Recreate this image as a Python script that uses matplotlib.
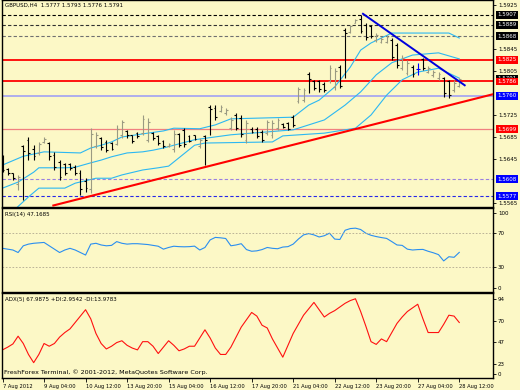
import numpy as np
import matplotlib.pyplot as plt

# GBPUSD H4 bars
opens = [1.5648,1.5626,1.5619,1.5600,1.5668,1.5680,1.5664,1.5655,1.5676,1.5674,
         1.5652,1.5640,1.5635,1.5636,1.5630,1.5620,1.5605,1.5590,1.5668,1.5684,
         1.5676,1.5674,1.5672,1.5688,1.5696,1.5688,1.5692,1.5692,1.5680,1.5692,
         1.5686,1.5678,1.5668,1.5664,1.5690,1.5698,1.5686,1.5688,1.5668,1.5686,
         1.5740,1.5738,1.5732,1.5728,1.5702,1.5725,1.5720,1.5680,1.5700,1.5700,
         1.5694,1.5692,1.5688,1.5702,1.5708,1.5710,1.5722,1.5750,1.5752,1.5800,
         1.5786,1.5786,1.5782,1.5786,1.5775,1.5812,1.5880,1.5876,1.5893,1.5900,
         1.5888,1.5886,1.5862,1.5858,1.5858,1.5862,1.5852,1.5810,1.5802,1.5812,
         1.5808,1.5826,1.5804,1.5797,1.5792,1.5792,1.5786,1.5770,1.5777]
highs = [1.5652,1.5629,1.5620,1.5616,1.5670,1.5685,1.5670,1.5676,1.5685,1.5676,
         1.5658,1.5643,1.5638,1.5638,1.5634,1.5625,1.5610,1.5701,1.5694,1.5685,
         1.5680,1.5676,1.5707,1.5716,1.5698,1.5689,1.5694,1.5725,1.5720,1.5694,
         1.5689,1.5680,1.5674,1.5698,1.5692,1.5701,1.5689,1.5689,1.5683,1.5689,
         1.5743,1.5743,1.5743,1.5738,1.5721,1.5729,1.5725,1.5716,1.5703,1.5703,
         1.5698,1.5716,1.5716,1.5720,1.5710,1.5712,1.5725,1.5776,1.5774,1.5803,
         1.5789,1.5789,1.5785,1.5816,1.5810,1.5816,1.5883,1.5889,1.5900,1.5907,
         1.5892,1.5889,1.5874,1.5867,1.5870,1.5865,1.5856,1.5834,1.5825,1.5816,
         1.5820,1.5829,1.5814,1.5807,1.5803,1.5794,1.5789,1.5789,1.5793]
lows = [1.5621,1.5616,1.5607,1.5589,1.5570,1.5643,1.5643,1.5652,1.5674,1.5643,
        1.5625,1.5607,1.5616,1.5625,1.5616,1.5580,1.5585,1.5583,1.5665,1.5661,
        1.5658,1.5661,1.5670,1.5683,1.5683,1.5674,1.5683,1.5689,1.5676,1.5680,
        1.5670,1.5665,1.5667,1.5658,1.5667,1.5667,1.5676,1.5680,1.5665,1.5634,
        1.5689,1.5716,1.5730,1.5725,1.5698,1.5698,1.5685,1.5674,1.5692,1.5683,
        1.5676,1.5689,1.5683,1.5698,1.5701,1.5698,1.5703,1.5747,1.5749,1.5765,
        1.5770,1.5767,1.5767,1.5783,1.5770,1.5774,1.5792,1.5874,1.5892,1.5874,
        1.5861,1.5865,1.5858,1.5856,1.5856,1.5825,1.5810,1.5807,1.5798,1.5794,
        1.5798,1.5807,1.5801,1.5794,1.5789,1.5758,1.5756,1.5767,1.5776]
closes = [1.5625,1.5619,1.5610,1.5612,1.5660,1.5655,1.5650,1.5672,1.5682,1.5650,
          1.5630,1.5612,1.5620,1.5628,1.5620,1.5590,1.5592,1.5690,1.5688,1.5666,
          1.5662,1.5664,1.5700,1.5712,1.5688,1.5678,1.5686,1.5718,1.5712,1.5684,
          1.5674,1.5668,1.5672,1.5690,1.5670,1.5672,1.5678,1.5682,1.5680,1.5680,
          1.5736,1.5722,1.5740,1.5734,1.5716,1.5702,1.5690,1.5710,1.5694,1.5686,
          1.5680,1.5712,1.5710,1.5716,1.5703,1.5700,1.5706,1.5772,1.5770,1.5790,
          1.5774,1.5772,1.5770,1.5810,1.5805,1.5778,1.5874,1.5886,1.5898,1.5878,
          1.5866,1.5868,1.5870,1.5864,1.5866,1.5830,1.5815,1.5828,1.5820,1.5800,
          1.5808,1.5810,1.5810,1.5803,1.5800,1.5765,1.5762,1.5784,1.5791]

# Bollinger lines, read at a few bars
upper_i = [0, 4, 8, 15, 17, 19, 21, 23, 28, 31, 33, 38, 41, 44, 56, 59, 61, 64, 67, 69, 71, 75, 86, 88]
upper_v = [1.5634, 1.5650, 1.5658, 1.5656, 1.5665, 1.5670, 1.5676, 1.5685, 1.5692, 1.5696, 1.5701, 1.5700,
           1.5707, 1.5718, 1.5721, 1.5743, 1.5752, 1.5776, 1.5812, 1.5843, 1.5856, 1.5874, 1.5874, 1.5865]
mid_i = [0, 3, 6, 7, 12, 14, 17, 19, 21, 24, 27, 29, 31, 37, 44, 56, 62, 66, 69, 72, 75, 79, 84, 88]
mid_v = [1.5592, 1.5603, 1.5621, 1.5629, 1.5629, 1.5630, 1.5638, 1.5643, 1.5649, 1.5656, 1.5658, 1.5661,
         1.5665, 1.5680, 1.5689, 1.5698, 1.5716, 1.5743, 1.5767, 1.5798, 1.5820, 1.5834, 1.5838, 1.5827]
low_i = [2, 5, 7, 12, 14, 18, 21, 23, 27, 30, 32, 37, 39, 52, 54, 62, 68, 71, 74, 77, 80, 84, 88]
low_v = [1.5550, 1.5576, 1.5592, 1.5592, 1.5601, 1.5610, 1.5610, 1.5616, 1.5625, 1.5629, 1.5632, 1.5670,
         1.5674, 1.5676, 1.5687, 1.5692, 1.5701, 1.5725, 1.5761, 1.5789, 1.5803, 1.5810, 1.5792]

rsi = [52, 51, 50, 47, 55, 57, 58, 58.5, 59, 55,
       51, 47, 50, 52, 50, 47, 44, 57, 58, 56,
       55, 55.5, 60, 58, 57, 57.5, 57.5, 57, 56.5, 55.5,
       54.5, 51, 53, 54.5, 54, 53.8, 54, 54.6, 50, 53,
       62, 65, 64.5, 63.7, 55, 56, 57.5, 50.5, 48.5, 49,
       50.5, 53, 52, 51.5, 53.5, 54, 57, 63, 68, 69.5,
       68, 65.5, 67, 70, 63, 62.5, 73.5, 75.5, 76, 74.4,
       70, 67.5, 66, 64.8, 63.8, 60, 56, 55.5, 51, 50,
       50.5, 50.7, 48.5, 46.7, 44.5, 37, 42, 41.3, 47.17]
adx = [38, 41, 44.5, 53, 45, 33, 24, 33, 45, 42,
       45, 52, 57, 61, 68, 75, 82, 72, 56, 45,
       39, 42, 46, 48, 43, 40, 38, 47, 47, 42,
       34, 41, 48, 43, 37, 39, 42, 42, 51, 60,
       51, 40, 33, 33, 41, 52, 63, 71, 79, 75,
       65, 62, 50, 40, 30, 43, 56, 66, 76, 83,
       90, 82, 74, 78, 81, 85, 89, 92, 94, 80,
       64, 47, 44, 50, 47, 57, 67, 74, 80, 84,
       88, 72, 57, 57, 57, 66, 76, 75, 68]

# horizontal levels: price, color, dashed
levels = [(1.5907, "#000000", True), (1.5889, "#303030", True), (1.5868, "#707070", True),
          (1.5825, "#ff0000", False), (1.5786, "#ff0000", False), (1.5760, "#a8a8f0", False),
          (1.5699, "#f08080", False), (1.5608, "#9a80e0", True), (1.5577, "#2828e8", True)]
level_lw = [0.8, 0.8, 0.8, 1.3, 1.3, 1.3, 0.9, 0.8, 0.8]
# price labels on the scale (price, box colour)
tags = [(1.5907, "#000000"), (1.5889, "#000000"), (1.5868, "#000000"), (1.5825, "#ff0000"),
        (1.5791, "#000000"), (1.5786, "#ff0000"), (1.5760, "#0000ff"), (1.5699, "#ff0000"),
        (1.5608, "#0000ff"), (1.5577, "#0000ff")]
# scale ticks not covered by a box
price_ticks = [1.5925, 1.5845, 1.5805, 1.5725, 1.5685, 1.5645, 1.5565]

red_trend = ([9.6, 94.6], [1.5560, 1.5763])
blue_trend = ([69.3, 89.2], [1.5910, 1.5778])

xtick_pos = list(range(0, 89, 8))
xtick_lab = ["7 Aug 2012", "9 Aug 04:00", "10 Aug 12:00", "13 Aug 20:00", "15 Aug 04:00", "16 Aug 12:00",
             "17 Aug 20:00", "21 Aug 04:00", "22 Aug 12:00", "23 Aug 20:00", "27 Aug 04:00", "28 Aug 12:00"]

BG = "#fcf8c6"
FS = 4.0
plt.rcParams["font.family"] = "DejaVu Sans"

fig = plt.figure(figsize=(5.2, 3.9), dpi=100, facecolor=BG)
L, W = 2 / 520, 491 / 520
ax = fig.add_axes([L, 183 / 390, W, 207 / 390], facecolor=BG)
ax_r = fig.add_axes([L, 98 / 390, W, 84 / 390], facecolor=BG, sharex=ax)
ax_a = fig.add_axes([L, 12 / 390, W, 85 / 390], facecolor=BG, sharex=ax)

x = np.arange(len(closes))
o, h, l, c = map(np.array, (opens, highs, lows, closes))
cols = np.where(c > o, "#9a9a82", np.where(c < o, "#000000", "#0000ff"))

for lv, lw in zip(levels, level_lw):
    ax.axhline(lv[0], color=lv[1], lw=lw, ls=(0, (3, 2)) if lv[2] else "-", zorder=1)

for bi, bv in ((upper_i, upper_v), (mid_i, mid_v), (low_i, low_v)):
    ax.plot(bi, bv, color="#2cb8f2", lw=0.8, zorder=2)

ax.vlines(x, l, h, colors=cols, lw=0.8, zorder=3)
ax.hlines(o, x - 0.35, x, colors=cols, lw=0.8, zorder=3)
ax.hlines(c, x, x + 0.35, colors=cols, lw=0.8, zorder=3)

ax.plot(*red_trend, color="#ff0000", lw=1.5, zorder=4, solid_capstyle="butt")
ax.plot(*blue_trend, color="#0000dd", lw=1.4, zorder=4, solid_capstyle="butt")

ax.set_xlim(-0.1, 94.5)
ax.set_ylim(1.55577, 1.59341)
ax.yaxis.tick_right()
ax.set_yticks(price_ticks)
ax.set_yticklabels([f"{p:.4f}" for p in price_ticks])
for p, col in tags:
    ax.annotate(f"{p:.4f}", xy=(1.0, p), xycoords=("axes fraction", "data"), xytext=(3.2, 0),
                textcoords="offset points", ha="left", va="center", fontsize=FS, color="white",
                bbox=dict(boxstyle="square,pad=0.25", fc=col, ec="none"), annotation_clip=False)
ax.text(0.006, 0.985, "GBPUSD,H4  1.5777 1.5793 1.5776 1.5791", transform=ax.transAxes,
        fontsize=FS, va="top", ha="left", color="#000000")

ax_r.plot(x, rsi, color="#2a8ef0", lw=0.8)
for lvl in (70, 30):
    ax_r.axhline(lvl, color="#b0a890", lw=0.6, ls=(0, (2, 2)))
ax_r.set_ylim(0, 100)
ax_r.yaxis.tick_right()
ax_r.set_yticks([94, 70, 30, 5])
ax_r.set_yticklabels(["100", "70", "30", "0"])
ax_r.text(0.006, 0.95, "RSI(14) 47.1685", transform=ax_r.transAxes, fontsize=FS, va="top", ha="left")

ax_a.plot(x, adx, color="#ff1010", lw=0.8)
ax_a.set_ylim(7.2, 100.3)
ax_a.yaxis.tick_right()
ax_a.set_yticks([94, 70, 47, 23, 11.6])
ax_a.set_yticklabels(["94", "70", "47", "23", "0"])
ax_a.text(0.006, 0.95, "ADX(5) 67.9875 +DI:2.9542 -DI:13.9783", transform=ax_a.transAxes,
          fontsize=FS, va="top", ha="left")
ax_a.text(0.004, 0.03, "FreshForex Terminal, \u00a9 2001-2012, MetaQuotes Software Corp.",
          transform=ax_a.transAxes, fontsize=4.6, va="bottom", ha="left")

ax_a.set_xticks(xtick_pos)
ax_a.set_xticklabels(xtick_lab, ha="left")
for a in (ax, ax_r, ax_a):
    a.tick_params(axis="y", labelsize=FS, length=2, width=0.6, pad=1.5, colors="black")
    a.tick_params(axis="x", labelsize=3.7, length=3, width=0.6, pad=1.2)
    for s in a.spines.values():
        s.set_color("black")
        s.set_linewidth(1.0)
for a in (ax, ax_r):
    a.tick_params(axis="x", labelbottom=False, length=0)

fig.savefig("out.png", dpi=100, facecolor=BG)
